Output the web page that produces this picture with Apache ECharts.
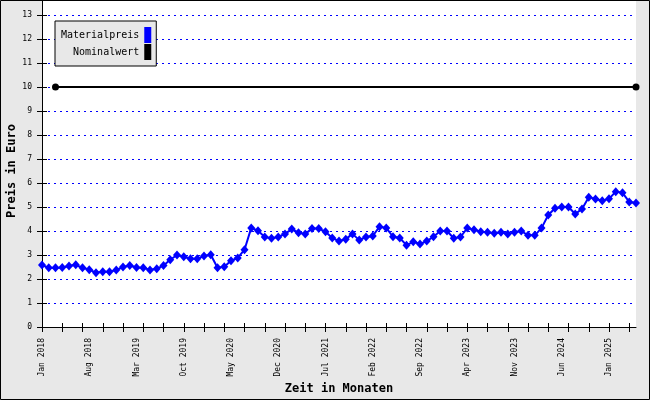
<!DOCTYPE html>
<html>
<head>
<meta charset="utf-8">
<script src="https://cdn.jsdelivr.net/npm/echarts@6/dist/echarts.min.js"></script>
<style>
html,body{margin:0;padding:0;background:#e8e8e8;}
#chart{width:650px;height:400px;}
</style>
</head>
<body>
<div id="chart"></div>
<script>
const monthNames = ['Jan','Feb','Mar','Apr','May','Jun','Jul','Aug','Sep','Oct','Nov','Dec'];
const startYear = 2018;
const monthCount = 89;
const categories = [];
for (let i = 0; i < monthCount; i++) {
  categories.push(monthNames[i % 12] + ' ' + (startYear + Math.floor(i / 12)));
}

const materialpreis = [
  2.58, 2.47, 2.47, 2.48, 2.54, 2.59, 2.47, 2.39, 2.26, 2.30, 2.30, 2.37,
  2.50, 2.56, 2.48, 2.47, 2.38, 2.43, 2.56, 2.80, 3.00, 2.93, 2.84, 2.84,
  2.96, 3.01, 2.47, 2.51, 2.76, 2.88, 3.22, 4.13, 4.01, 3.75, 3.70, 3.75,
  3.88, 4.08, 3.93, 3.88, 4.10, 4.10, 3.97, 3.71, 3.58, 3.66, 3.88, 3.62,
  3.75, 3.79, 4.18, 4.13, 3.76, 3.71, 3.41, 3.55, 3.46, 3.58, 3.76, 4.00,
  4.00, 3.70, 3.75, 4.12, 4.05, 3.97, 3.95, 3.91, 3.95, 3.88, 3.95, 4.00,
  3.82, 3.82, 4.12, 4.67, 4.95, 5.00, 5.00, 4.71, 4.92, 5.41, 5.33, 5.26,
  5.34, 5.64, 5.59, 5.21, 5.17
];

const nominalStart = 'Mar 2018';
const nominalEnd = 'May 2025';
const nominalValue = 10;

const yTicks = [0,1,2,3,4,5,6,7,8,9,10,11,12,13];

const FONT = 'DejaVu Sans Mono';
const gridLeft = 42, gridRight = 14, gridTop = 15, gridBottom = 73;
const gridW = 650 - gridLeft - gridRight;
const gridH = 400 - gridTop - gridBottom;

const chart = echarts.init(document.getElementById('chart'), null, {renderer: 'canvas'});
chart.setOption({
  animation: false,
  backgroundColor: '#e8e8e8',
  textStyle: {fontFamily: FONT},
  graphic: [
    {type: 'rect', z: -1, silent: true,
     shape: {x: gridLeft, y: 1, width: gridW, height: gridTop + gridH - 1},
     style: {fill: '#ffffff'}},
    {type: 'line', z: 10, silent: true,
     shape: {x1: gridLeft + 0.5, y1: 1, x2: gridLeft + 0.5, y2: gridTop},
     style: {stroke: '#000', lineWidth: 1}},
    {type: 'rect', z: 20, silent: true,
     shape: {x: 0.5, y: 0.5, width: 649, height: 399},
     style: {fill: null, stroke: '#000', lineWidth: 1}}
  ],
  grid: {left: gridLeft, right: gridRight, top: gridTop, bottom: gridBottom,
         containLabel: false, outerBoundsMode: 'none'},
  legend: {
    left: 55, top: 21,
    orient: 'vertical',
    align: 'right',
    icon: 'rect',
    itemWidth: 7, itemHeight: 16, itemGap: 1,
    padding: [6, 5, 6, 6],
    backgroundColor: '#e8e8e8',
    borderColor: '#000', borderWidth: 1, borderRadius: 0,
    textStyle: {fontFamily: FONT, fontSize: 10, color: '#000'},
    formatter: function (name) { return name.padStart(13, ' '); },
    data: ['Materialpreis', 'Nominalwert']
  },
  xAxis: [
    {
      type: 'category', data: categories, boundaryGap: false,
      name: 'Zeit in Monaten', nameLocation: 'middle', nameGap: 56, nameMoveOverlap: false,
      nameTextStyle: {fontFamily: FONT, fontSize: 12, fontWeight: 'bold', color: '#000'},
      axisLine: {lineStyle: {color: '#000', width: 1}},
      axisTick: {show: true, interval: 2, length: 5, lineStyle: {color: '#000'}},
      axisLabel: {interval: 6, rotate: 90, margin: 11, fontFamily: FONT, fontSize: 8, color: '#000'},
      splitLine: {show: false}
    },
    {
      type: 'category', data: categories, boundaryGap: false,
      position: 'top', offset: -gridH,
      axisLine: {show: false, onZero: false},
      axisTick: {show: true, interval: 2, length: 4, lineStyle: {color: '#000'}},
      axisLabel: {show: false},
      splitLine: {show: false}
    }
  ],
  yAxis: [
    {
      type: 'value', min: 0, max: 13, interval: 1,
      name: 'Preis in Euro', nameLocation: 'middle', nameGap: 24, nameMoveOverlap: false,
      nameTextStyle: {fontFamily: FONT, fontSize: 12, fontWeight: 'bold', color: '#000'},
      axisLine: {show: true, lineStyle: {color: '#000', width: 1}},
      axisTick: {show: true, length: 5, lineStyle: {color: '#000'}},
      axisLabel: {margin: 10, fontFamily: FONT, fontSize: 8, color: '#000',
        formatter: function (v) { return yTicks.indexOf(v) >= 0 ? String(v) : ''; }},
      splitLine: {show: true, lineStyle: {color: '#0000ff', width: 1, type: [2, 4], opacity: 1}}
    },
    {
      type: 'value', min: 0, max: 13, interval: 1,
      position: 'right', offset: -gridW,
      axisLine: {show: false, onZero: false},
      axisTick: {show: true, length: 5, lineStyle: {color: '#000'}},
      axisLabel: {show: false},
      splitLine: {show: false},
      splitArea: {show: false}
    }
  ],
  series: [
    {
      name: 'Materialpreis', type: 'line', xAxisIndex: 0, yAxisIndex: 0,
      data: materialpreis,
      symbol: 'diamond', symbolSize: [8, 9], showAllSymbol: true,
      lineStyle: {color: '#0000ff', width: 2},
      itemStyle: {color: '#0000ff'},
      z: 3
    },
    {
      name: 'Nominalwert', type: 'line', xAxisIndex: 0, yAxisIndex: 0,
      data: [[nominalStart, nominalValue], [nominalEnd, nominalValue]],
      symbol: 'circle', symbolSize: 7, showAllSymbol: true,
      lineStyle: {color: '#000', width: 2},
      itemStyle: {color: '#000'},
      z: 4
    }
  ]
});
</script>
</body>
</html>
